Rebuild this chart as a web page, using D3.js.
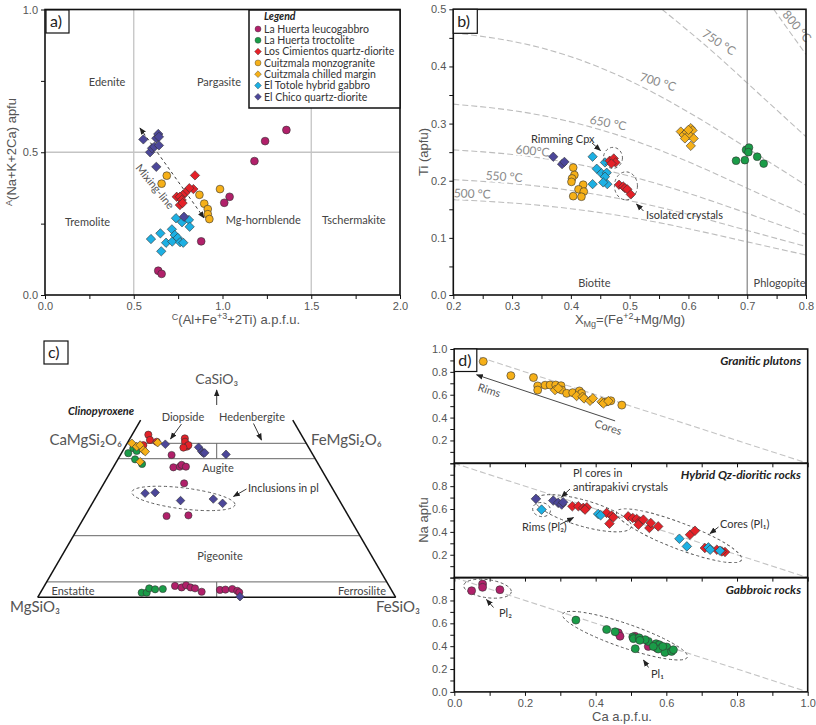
<!DOCTYPE html>
<html><head><meta charset="utf-8">
<script src="https://cdn.jsdelivr.net/npm/d3@7"></script>
<style>
body{margin:0;background:#fff}
svg text{font-family:Lato,"Open Sans",sans-serif}
.tick text{font-family:"Liberation Sans",Arial,sans-serif;fill:#555;font-size:11px}
.ax{font-family:"Liberation Sans",Arial,sans-serif;fill:#555;font-size:13px}
</style></head><body>
<svg id="fig" width="816" height="725"></svg>
<script>
// ---- colours / legend
var legendNames = ["La Huerta leucogabbro","La Huerta troctolite","Los Cimientos quartz-diorite",
  "Cuitzmala monzogranite","Cuitzmala chilled margin","El Totole hybrid gabbro","El Chico quartz-diorite"];
var legendColors = ["#b1206a","#1a9c48","#e42128","#f6b018","#f6b018","#1db0e3","#4c4799"];
var legendShapes = ["c","c","d","c","d","d","d"];

// ---- panel a : C(Al+Fe3+2Ti) vs A(Na+K+2Ca)
var aLeucogabbro = [[1.36,0.578],[1.24,0.539],[1.18,0.469],[1.04,0.344],[1.01,0.323],[0.88,0.188],[0.638,0.085],[0.657,0.074]];
var aMonzogranite = [[0.686,0.418],[0.657,0.39],[0.87,0.351],[0.986,0.371],[0.897,0.32],[0.917,0.301],[0.917,0.283],[0.926,0.266]];
var aCimientos = [[0.845,0.419],[0.836,0.371],[0.813,0.374],[0.79,0.358],[0.776,0.35],[0.742,0.344],[0.76,0.344],[0.77,0.333],[0.76,0.315],[0.775,0.322]];
var aTotole = [[0.738,0.269],[0.772,0.255],[0.811,0.263],[0.815,0.239],[0.597,0.196],[0.65,0.216],[0.682,0.183],[0.715,0.23],
  [0.717,0.187],[0.731,0.21],[0.748,0.2],[0.761,0.185],[0.779,0.183],[0.655,0.153]];
var aChico = [[0.554,0.545],[0.592,0.5],[0.603,0.514],[0.627,0.549],[0.638,0.564],[0.642,0.554],[0.616,0.519],[0.642,0.524],[0.627,0.449],[0.783,0.274]];
var aMixing = [[0.535,0.585],[0.896,0.27]];

// ---- panel b : XMg vs Ti (biotite)
var bChico = [[0.370,0.242],[0.385,0.229],[0.389,0.233]];
var bMonzogranite = [[0.404,0.223],[0.406,0.210],[0.402,0.204],[0.401,0.198],[0.421,0.193],[0.413,0.185],[0.422,0.181],[0.404,0.173],[0.418,0.172]];
var bTotole = [[0.437,0.242],[0.458,0.232],[0.444,0.221],[0.437,0.194],[0.452,0.213],[0.461,0.214],[0.458,0.207],[0.462,0.194],[0.455,0.197]];
var bCimientos = [[0.466,0.235],[0.473,0.239],[0.476,0.232],[0.469,0.230],[0.482,0.193],[0.489,0.190],[0.492,0.187],[0.496,0.185],[0.502,0.176]];
var bChilled = [[0.587,0.286],[0.592,0.280],[0.597,0.285],[0.604,0.292],[0.607,0.288],[0.601,0.280],[0.594,0.274],[0.609,0.274],[0.604,0.261],[0.600,0.289]];
var bTroctolite = [[0.681,0.235],[0.696,0.236],[0.698,0.254],[0.703,0.258],[0.702,0.250],[0.717,0.242],[0.728,0.230]];
// isotherms
var iso500 = [[0.2,0.167],[0.3,0.161],[0.4,0.151],[0.5,0.136],[0.6,0.116],[0.7,0.093],[0.8,0.070]];
var iso550 = [[0.2,0.202],[0.3,0.195],[0.4,0.183],[0.5,0.165],[0.6,0.141],[0.7,0.113],[0.8,0.085]];
var iso600 = [[0.2,0.254],[0.3,0.246],[0.4,0.231],[0.5,0.208],[0.6,0.178],[0.7,0.143],[0.8,0.106]];
var iso650 = [[0.2,0.334],[0.3,0.323],[0.4,0.303],[0.5,0.273],[0.6,0.233],[0.7,0.187],[0.8,0.140]];
var iso700 = [[0.2,0.459],[0.3,0.444],[0.4,0.417],[0.5,0.375],[0.6,0.320],[0.7,0.257],[0.8,0.192]];
var iso750 = [[0.555,0.5],[0.6,0.462],[0.65,0.418],[0.7,0.371],[0.75,0.324],[0.8,0.277]];
var iso800 = [[0.745,0.5],[0.77,0.464],[0.8,0.421]];
var isoLabels = [["500 °C",0.232,0.177,2],["550 °C",0.286,0.207,4],["600°C",0.334,0.252,6],["650 °C",0.462,0.301,11],
  ["700 °C",0.546,0.373,17],["750 °C",0.648,0.443,33],["800 °C",0.779,0.4725,50]];

// ---- panel c : pyroxene quadrilateral [Wo, En, Fs]
var cCimientos = [[52.8,42.7,4.5],[51.1,43.1,5.8],[50.5,41.5,8.0],[49.4,45.8,4.8],[51.6,33.1,15.3],[50.5,33.6,15.9],[48.9,33.9,17.2],[49.4,33.2,17.4],[48.6,35.0,16.4]];
var cChilled = [[50.0,48.7,1.3],[48.9,47.9,3.2],[49.4,46.7,3.9],[47.8,46.6,5.6],[47.3,46.3,6.4],[44.0,49.4,6.6],[50.2,41.4,8.4]];
var cTroctolite = [[46.8,51.3,1.9],[48.4,49.1,2.5],[47.5,48.6,3.9],[44.8,50.4,4.8],[43.3,49.2,7.5],
  [1.5,70.2,28.3],[1.5,68.8,29.7],[2.9,67.4,29.7],[2.6,65.9,31.5],[2.7,63.7,33.6]];
var cChico = [[49.7,39.5,10.8],[48.7,30.7,20.6],[47.3,30.5,22.2],[46.8,30.3,22.9],[46.9,29.9,23.2],[46.4,24.2,29.4],
  [33.8,53.1,13.1],[34.0,50.2,15.8],[31.4,44.4,24.2],[31.9,35.0,33.1],[30.5,33.1,36.4],[0.2,43.4,56.4]];
var cLeucogabbro = [[46.2,39.5,14.3],[42.2,41.0,16.8],[42.4,39.1,18.5],[43.0,38.3,18.7],[42.4,37.4,20.2],[37.0,40.6,22.4],
  [26.4,50.8,22.8],[26.6,44.6,28.8],
  [3.7,59.8,36.5],[3.2,58.2,38.6],[3.9,56.6,39.5],[3.2,55.7,41.1],[2.9,54.6,42.5],[1.8,53.3,44.9],
  [2.4,47.9,49.7],[2.5,46.3,51.2],[2.7,44.3,53.0],[2.1,43.2,54.7],[1.6,42.9,55.5]];
var cWoLines = [50,45,20,5];

// ---- panel d : Ca vs Na in plagioclase
var dGraniticCirc = [[0.082,0.891],[0.160,0.767],[0.224,0.750],[0.236,0.677],[0.236,0.641],[0.257,0.683],[0.271,0.685],[0.287,0.685],
  [0.302,0.679],[0.304,0.641],[0.318,0.612],[0.335,0.618],[0.354,0.633],[0.360,0.612],[0.443,0.547],[0.474,0.509],[0.431,0.538]];
var dGraniticDiam = [[0.285,0.641],[0.294,0.656],[0.346,0.589],[0.363,0.582],[0.367,0.568],[0.384,0.547],[0.392,0.568],[0.417,0.538],[0.422,0.524],[0.436,0.544]];
var dHybridChico = [[0.231,0.689],[0.280,0.674],[0.294,0.654],[0.304,0.639],[0.308,0.659]];
var dHybridTotole = [[0.247,0.595],[0.407,0.557],[0.414,0.545],[0.637,0.340],[0.658,0.273],[0.719,0.264],[0.724,0.244],[0.752,0.235]];
var dHybridCimientos = [[0.334,0.624],[0.351,0.624],[0.365,0.610],[0.375,0.615],[0.370,0.595],[0.431,0.566],[0.445,0.542],[0.439,0.472],
  [0.450,0.527],[0.492,0.536],[0.505,0.522],[0.516,0.513],[0.525,0.492],[0.521,0.463],[0.535,0.507],[0.552,0.434],[0.556,0.478],
  [0.577,0.448],[0.667,0.375],[0.681,0.410],[0.709,0.259],[0.743,0.244],[0.766,0.224],[0.757,0.229]];
var dGabbroLeuco = [[0.049,0.885],[0.080,0.944],[0.080,0.915],[0.129,0.894],[0.464,0.517],[0.469,0.487],[0.511,0.487],[0.549,0.398],[0.573,0.384],[0.608,0.360]];
var dGabbroTroct = [[0.344,0.628],[0.431,0.546],[0.455,0.526],[0.505,0.481],[0.507,0.466],[0.523,0.473],[0.512,0.378],[0.549,0.442],
  [0.540,0.457],[0.571,0.422],[0.580,0.413],[0.577,0.375],[0.596,0.384],[0.601,0.393],[0.596,0.345],[0.615,0.354],[0.620,0.369],
  [0.590,0.398],[0.563,0.398],[0.525,0.451]];
var dPanelTitles = ["Granitic plutons","Hybrid Qz-dioritic rocks","Gabbroic rocks"];

// ================= drawing
var svg = d3.select("#fig");
svg.append("rect").attr("width",816).attr("height",725).attr("fill","#fff");
var defs = svg.append("defs");
defs.append("marker").attr("id","arr").attr("viewBox","0 0 10 10").attr("refX",9).attr("refY",5)
  .attr("markerWidth",7).attr("markerHeight",7).attr("markerUnits","userSpaceOnUse")
  .attr("orient","auto-start-reverse")
  .append("path").attr("d","M0,1 L10,5 L0,9 Z").attr("fill","#222");

var diamond = function(s){ return "M0,"+(-s)+"L"+s+",0L0,"+s+"L"+(-s)+",0Z"; };
var circle = function(r){ return d3.symbol(d3.symbolCircle, Math.PI*r*r)(); };

function dots(g, data, fx, fy, color, shape, r) {
  g.append("g").selectAll("path").data(data).join("path")
    .attr("transform", function(d){ return "translate("+fx(d)+","+fy(d)+")"; })
    .attr("d", shape === "c" ? circle(r) : diamond(r*1.2))
    .attr("fill", color).attr("stroke","#333").attr("stroke-width",0.6);
}
function txt(g, x, y, s, o) {
  o = o || {};
  var t = g.append("text").attr("x",x).attr("y",y).text(s)
    .attr("font-size", o.size || 11).attr("fill", o.fill || "#444")
    .attr("text-anchor", o.anchor || "start");
  if (o.bold) t.attr("font-weight","bold");
  if (o.italic) t.attr("font-style","italic");
  if (o.rot) t.attr("transform","rotate("+o.rot+","+x+","+y+")");
  return t;
}
function arrow(g, x1, y1, x2, y2, both) {
  var l = g.append("line").attr("x1",x1).attr("y1",y1).attr("x2",x2).attr("y2",y2)
    .attr("stroke","#222").attr("stroke-width",0.9).attr("marker-end","url(#arr)");
  if (both) l.attr("marker-start","url(#arr)");
  return l;
}
function frame(g, x0, y0, x1, y1) {
  g.append("rect").attr("x",x0).attr("y",y0).attr("width",x1-x0).attr("height",y1-y0)
    .attr("fill","none").attr("stroke","#111").attr("stroke-width",1.6);
}
function tagBox(g, x, y, w, h, s) {
  g.append("rect").attr("x",x).attr("y",y).attr("width",w).attr("height",h)
    .attr("fill","#fff").attr("stroke","#111").attr("stroke-width",1.2);
  txt(g, x+4, y+h-6, s, {size:16, fill:"#222"});
}
function near(v, step) { return Math.abs(v/step - Math.round(v/step)) < 1e-6; }
function styleAxis(sel) {
  sel.select(".domain").remove();
  sel.selectAll(".tick line").attr("stroke","#111");
}
function hull(g, cx, cy, rx, ry, ang) {
  g.append("ellipse").attr("cx",0).attr("cy",0).attr("rx",rx).attr("ry",ry)
    .attr("transform","translate("+cx+","+cy+") rotate("+ang+")")
    .attr("fill","none").attr("stroke","#555").attr("stroke-width",0.9).attr("stroke-dasharray","3,2.5");
}

// ---------------- panel a
(function(){
  var g = svg.append("g");
  var x = d3.scaleLinear([0,2],[45,400]), y = d3.scaleLinear([0,1],[295,9.5]);
  [0.5,1.5].forEach(function(v){
    g.append("line").attr("x1",x(v)).attr("x2",x(v)).attr("y1",y(0)).attr("y2",y(1)).attr("stroke","#c4c4c4").attr("stroke-width",1.3);
  });
  g.append("line").attr("x1",x(0)).attr("x2",x(2)).attr("y1",y(0.5)).attr("y2",y(0.5)).attr("stroke","#c4c4c4").attr("stroke-width",1.3);

  g.append("g").attr("transform","translate(0,295)")
    .call(d3.axisBottom(x).tickValues(d3.range(0,2.01,0.25)).tickSize(4).tickPadding(3)
      .tickFormat(function(d){ return near(d,0.5) ? d.toFixed(1) : ""; })).call(styleAxis);
  g.append("g").attr("transform","translate(45,0)")
    .call(d3.axisLeft(y).tickValues(d3.range(0,1.01,0.25)).tickSize(4).tickPadding(3)
      .tickFormat(function(d){ return near(d,0.5) ? d.toFixed(1) : ""; })).call(styleAxis);

  txt(g, x(0.35), 86, "Edenite", {anchor:"middle"});
  txt(g, x(0.98), 86, "Pargasite", {anchor:"middle"});
  txt(g, x(0.24), 226, "Tremolite", {anchor:"middle"});
  txt(g, x(1.23), 224, "Mg-hornblende", {anchor:"middle"});
  txt(g, x(1.74), 224, "Tschermakite", {anchor:"middle"});

  g.append("line").attr("x1",x(aMixing[0][0])).attr("y1",y(aMixing[0][1])).attr("x2",x(aMixing[1][0])).attr("y2",y(aMixing[1][1]))
    .attr("stroke","#222").attr("stroke-width",0.9).attr("stroke-dasharray","3,3")
    .attr("marker-start","url(#arr)").attr("marker-end","url(#arr)");
  txt(g, 152, 189, "Mixing-line", {anchor:"middle", rot:51, fill:"#555"});

  var fx = function(d){ return x(d[0]); }, fy = function(d){ return y(d[1]); };
  dots(g, aLeucogabbro, fx, fy, legendColors[0], "c", 3.9);
  dots(g, aMonzogranite, fx, fy, legendColors[3], "c", 3.9);
  dots(g, aTotole, fx, fy, legendColors[5], "d", 3.9);
  dots(g, aCimientos, fx, fy, legendColors[2], "d", 3.9);
  dots(g, aChico, fx, fy, legendColors[6], "d", 3.9);

  frame(g, 45, 9.5, 400, 295);
  // legend
  g.append("rect").attr("x",249).attr("y",10).attr("width",151).attr("height",98)
    .attr("fill","#fff").attr("stroke","#111").attr("stroke-width",1.5);
  txt(g, 264, 20, "Legend", {bold:true, italic:true, fill:"#222", size:10.5});
  legendNames.forEach(function(n,i){
    var yy = 29 + i*11.3;
    g.append("path").attr("transform","translate(258,"+yy+")")
      .attr("d", legendShapes[i]==="c" ? circle(3) : diamond(3.4))
      .attr("fill",legendColors[i]).attr("stroke","#333").attr("stroke-width",0.4);
    txt(g, 264, yy+3.8, n, {fill:"#333", size:10.5});
  });
  tagBox(g, 46, 10, 23, 23, "a)");

  var yl = g.append("text").attr("class","ax").attr("transform","translate(16,152) rotate(-90)").attr("text-anchor","middle");
  yl.append("tspan").attr("font-size",9).attr("dy",-4).text("A");
  yl.append("tspan").attr("dy",4).text("(Na+K+2Ca) apfu");
  var xl = g.append("text").attr("class","ax").attr("x",236).attr("y",324).attr("text-anchor","middle");
  xl.append("tspan").attr("font-size",9).attr("dy",-4).text("C");
  xl.append("tspan").attr("dy",4).text("(Al+Fe");
  xl.append("tspan").attr("font-size",9).attr("dy",-5).text("+3");
  xl.append("tspan").attr("dy",5).text("+2Ti) a.p.f.u.");
})();

// ---------------- panel b
(function(){
  var g = svg.append("g");
  var x = d3.scaleLinear([0.2,0.8],[453.3,806]), y = d3.scaleLinear([0,0.5],[295,9.3]);
  defs.append("clipPath").attr("id","clipb").append("rect").attr("x",453.3).attr("y",9.3).attr("width",352.7).attr("height",285.7);
  var line = d3.line().x(function(d){ return x(d[0]); }).y(function(d){ return y(d[1]); }).curve(d3.curveNatural);
  var gc = g.append("g").attr("clip-path","url(#clipb)");
  [iso500,iso550,iso600,iso650,iso700,iso750,iso800].forEach(function(c){
    gc.append("path").attr("d",line(c)).attr("fill","none").attr("stroke","#bdbdbd").attr("stroke-width",1.1).attr("stroke-dasharray","6,3");
  });
  isoLabels.forEach(function(l){
    txt(g, x(l[1]), y(l[2])+4, l[0], {size:12, fill:"#8a8a8a", anchor:"middle", rot:l[3]})
      .attr("stroke","#fff").attr("stroke-width",4).attr("paint-order","stroke");
  });
  g.append("line").attr("x1",x(0.7)).attr("x2",x(0.7)).attr("y1",y(0)).attr("y2",y(0.5)).attr("stroke","#8c8c8c").attr("stroke-width",1.3);

  g.append("g").attr("transform","translate(0,295)")
    .call(d3.axisBottom(x).tickValues(d3.range(4,17).map(function(i){ return i*0.05; })).tickSize(4).tickPadding(3)
      .tickFormat(function(d){ return near(d,0.1) ? d.toFixed(1) : ""; })).call(styleAxis);
  g.append("g").attr("transform","translate(453.3,0)")
    .call(d3.axisLeft(y).tickValues(d3.range(0,11).map(function(i){ return i*0.05; })).tickSize(4).tickPadding(3)
      .tickFormat(function(d){ return near(d,0.1) ? d.toFixed(1) : ""; })).call(styleAxis);

  txt(g, x(0.44), 287, "Biotite", {anchor:"middle"});
  txt(g, x(0.755), 287, "Phlogopite", {anchor:"middle"});

  var fx = function(d){ return x(d[0]); }, fy = function(d){ return y(d[1]); };
  dots(g, bMonzogranite, fx, fy, legendColors[3], "c", 3.9);
  dots(g, bTroctolite, fx, fy, legendColors[1], "c", 3.9);
  dots(g, bChico, fx, fy, legendColors[6], "d", 3.9);
  dots(g, bTotole, fx, fy, legendColors[5], "d", 3.9);
  dots(g, bCimientos, fx, fy, legendColors[2], "d", 3.9);
  dots(g, bChilled, fx, fy, legendColors[4], "d", 3.9);

  hull(g, x(0.4716), y(0.240), 9.5, 10.5, 0);
  hull(g, x(0.4937), y(0.191), 11.5, 14, 0);
  txt(g, 531, 143, "Rimming Cpx", {size:11, fill:"#333"});
  arrow(g, 592, 143, 600.5, 150.5);
  txt(g, 646, 219, "Isolated crystals", {size:11, fill:"#333"});
  arrow(g, 643.5, 211, 636.5, 204);

  frame(g, 453.3, 9.3, 806, 295);
  tagBox(g, 453.3, 9.3, 24, 24, "b)");

  g.append("text").attr("class","ax").attr("transform","translate(428,152) rotate(-90)").attr("text-anchor","middle").text("Ti (apfu)");
  var xl = g.append("text").attr("class","ax").attr("x",630).attr("y",324).attr("text-anchor","middle");
  xl.append("tspan").text("X");
  xl.append("tspan").attr("font-size",9).attr("dy",3).text("Mg");
  xl.append("tspan").attr("dy",-3).text("=(Fe");
  xl.append("tspan").attr("font-size",9).attr("dy",-5).text("+2");
  xl.append("tspan").attr("dy",5).text("+Mg/Mg)");
})();

// ---------------- panel c
(function(){
  var g = svg.append("g");
  var u = d3.scaleLinear([0,100],[37.7,395.7]);   // Fs + Wo/2
  var v = d3.scaleLinear([0,100],[597.3,289.3]);  // Wo
  var px = function(d){ return u(d[2] + d[0]/2); }, py = function(d){ return v(d[0]); };

  cWoLines.forEach(function(w){
    g.append("line").attr("x1",u(w/2)).attr("x2",u(100-w/2)).attr("y1",v(w)).attr("y2",v(w)).attr("stroke","#666").attr("stroke-width",1);
  });
  [[45,50],[0,5]].forEach(function(r){
    g.append("line").attr("x1",u(50)).attr("x2",u(50)).attr("y1",v(r[0])).attr("y2",v(r[1])).attr("stroke","#666").attr("stroke-width",1);
  });
  g.append("line").attr("x1",u(0)).attr("x2",u(100)).attr("y1",v(0)).attr("y2",v(0)).attr("stroke","#111").attr("stroke-width",1.5);
  g.append("line").attr("x1",u(0)).attr("x2",u(28.75)).attr("y1",v(0)).attr("y2",v(57.5)).attr("stroke","#111").attr("stroke-width",1.5);
  g.append("line").attr("x1",u(100)).attr("x2",u(71.25)).attr("y1",v(0)).attr("y2",v(57.5)).attr("stroke","#111").attr("stroke-width",1.5);

  txt(g, u(50), 384, "CaSiO₃", {size:14, fill:"#555", anchor:"middle"});
  arrow(g, u(50), 405, u(50), 390);
  txt(g, 68, 415, "Clinopyroxene", {bold:true, italic:true, fill:"#222"});
  txt(g, 122, 445, "CaMgSi₂O₆", {size:15, fill:"#555", anchor:"end"});
  txt(g, 311, 445, "FeMgSi₂O₆", {size:15, fill:"#555"});
  txt(g, 35, 612, "MgSiO₃", {size:15, fill:"#555", anchor:"middle"});
  txt(g, 398, 612, "FeSiO₃", {size:15, fill:"#555", anchor:"middle"});
  txt(g, 183, 421, "Diopside", {anchor:"middle"});
  txt(g, 252, 421, "Hedenbergite", {anchor:"middle"});
  txt(g, 218, 472, "Augite", {anchor:"middle"});
  txt(g, 220, 560, "Pigeonite", {anchor:"middle"});
  txt(g, 73, 595, "Enstatite", {anchor:"middle"});
  txt(g, 362, 595, "Ferrosilite", {anchor:"middle"});
  txt(g, 248, 492, "Inclusions in pl", {fill:"#333"});
  arrow(g, 181.5, 424, 170.5, 439);
  arrow(g, 253.5, 423.5, 261.5, 440);
  arrow(g, 246.5, 489, 233.5, 496.5);
  hull(g, u(40.7), v(32.1), 52, 10.5, 7);

  dots(g, cLeucogabbro, px, py, legendColors[0], "c", 3.6);
  dots(g, cTroctolite, px, py, legendColors[1], "c", 3.6);
  dots(g, cCimientos, px, py, legendColors[2], "c", 3.6);
  dots(g, cChilled, px, py, legendColors[4], "d", 3.6);
  dots(g, cChico, px, py, legendColors[6], "d", 3.6);

  tagBox(g, 44, 341, 24, 23, "c)");
})();

// ---------------- panel d
(function(){
  var g = svg.append("g");
  var x = d3.scaleLinear([0,1],[454.3,807.7]);
  var tops = [349, 463.3, 577.6], h = 114.3;
  var ys = tops.map(function(t){ return d3.scaleLinear([0,1],[t+h, t]); });
  var labelled = [[0.2,0.4,0.6,0.8,1.0],[0.2,0.4,0.6,0.8],[0,0.2,0.4,0.6,0.8]];
  var tenths = d3.range(0,11).map(function(i){ return i/10; });

  ys.forEach(function(y,i){
    var cid = "clipd"+i;
    defs.append("clipPath").attr("id",cid).append("rect").attr("x",x(0)).attr("y",tops[i]).attr("width",x(1)-x(0)).attr("height",h);
    g.append("line").attr("clip-path","url(#"+cid+")").attr("x1",x(0)).attr("y1",y(1)).attr("x2",x(1)).attr("y2",y(0))
      .attr("stroke","#c4c4c4").attr("stroke-width",1.1).attr("stroke-dasharray","6,3");
    g.append("g").attr("transform","translate("+x(0)+",0)")
      .call(d3.axisLeft(y).tickValues(tenths).tickSize(4).tickPadding(3)
        .tickFormat(function(d){ return labelled[i].some(function(l){ return Math.abs(l-d)<1e-6; }) ? d.toFixed(1) : ""; }))
      .call(styleAxis);
    txt(g, 801, tops[i]+16, dPanelTitles[i], {bold:true, italic:true, size:12, anchor:"end", fill:"#222"});
  });
  [tops[1], tops[2]].forEach(function(t){
    g.append("g").attr("transform","translate(0,"+t+")")
      .call(d3.axisBottom(x).tickValues(tenths).tickSize(4).tickFormat("")).call(styleAxis);
  });
  g.append("g").attr("transform","translate(0,"+(tops[2]+h)+")")
    .call(d3.axisBottom(x).tickValues(tenths).tickSize(4).tickPadding(3)
      .tickFormat(function(d){ return near(d,0.2) ? d.toFixed(1) : ""; })).call(styleAxis);

  var fx = function(d){ return x(d[0]); };
  var fy = function(i){ return function(d){ return ys[i](d[1]); }; };

  // granitic
  arrow(g, x(0.455), ys[0](0.371), x(0.063), ys[0](0.774)).attr("stroke","#333");
  txt(g, 488, 394, "Rims", {anchor:"middle", rot:18, fill:"#555"});
  txt(g, 607, 431, "Cores", {anchor:"middle", rot:18, fill:"#555"});
  dots(g, dGraniticCirc, fx, fy(0), legendColors[3], "c", 4);
  dots(g, dGraniticDiam, fx, fy(0), legendColors[4], "d", 4);

  // hybrid
  hull(g, x(0.247), ys[1](0.595), 9, 7, 10);
  hull(g, x(0.365), ys[1](0.563), 50, 13, 16);
  hull(g, x(0.636), ys[1](0.366), 67, 13, 21);
  dots(g, dHybridChico, fx, fy(1), legendColors[6], "d", 4);
  dots(g, dHybridCimientos, fx, fy(1), legendColors[2], "d", 4);
  dots(g, dHybridTotole, fx, fy(1), legendColors[5], "d", 4);
  txt(g, 573, 477, "Pl cores in", {fill:"#333"});
  txt(g, 573, 491, "antirapakivi crystals", {fill:"#333"});
  arrow(g, 570, 489, 561.5, 497);
  txt(g, 522, 531, "Rims (Pl₂)", {fill:"#333"});
  arrow(g, 560, 524.5, 573.5, 517.5);
  txt(g, 720, 528, "Cores (Pl₁)", {fill:"#333"});
  arrow(g, 718.5, 527, 710, 533.5);

  // gabbroic
  hull(g, x(0.094), ys[2](0.903), 24, 9, 8);
  hull(g, x(0.483), ys[2](0.492), 66, 12, 19);
  dots(g, dGabbroLeuco, fx, fy(2), legendColors[0], "c", 4);
  dots(g, dGabbroTroct, fx, fy(2), legendColors[1], "c", 4);
  txt(g, 499, 617, "Pl₂", {fill:"#333"});
  arrow(g, 493.5, 607.5, 486.5, 599.5);
  txt(g, 651, 678, "Pl₁", {fill:"#333"});
  arrow(g, 648.5, 667.5, 643.5, 660);

  tops.forEach(function(t){ frame(g, x(0), t, x(1), t+h); });
  tagBox(g, 454.3, 349, 22.5, 22.5, "d)");

  g.append("text").attr("class","ax").attr("transform","translate(428,520) rotate(-90)").attr("text-anchor","middle").text("Na apfu");
  g.append("text").attr("class","ax").attr("x",622).attr("y",721).attr("text-anchor","middle").text("Ca a.p.f.u.");
})();
</script></body></html>
